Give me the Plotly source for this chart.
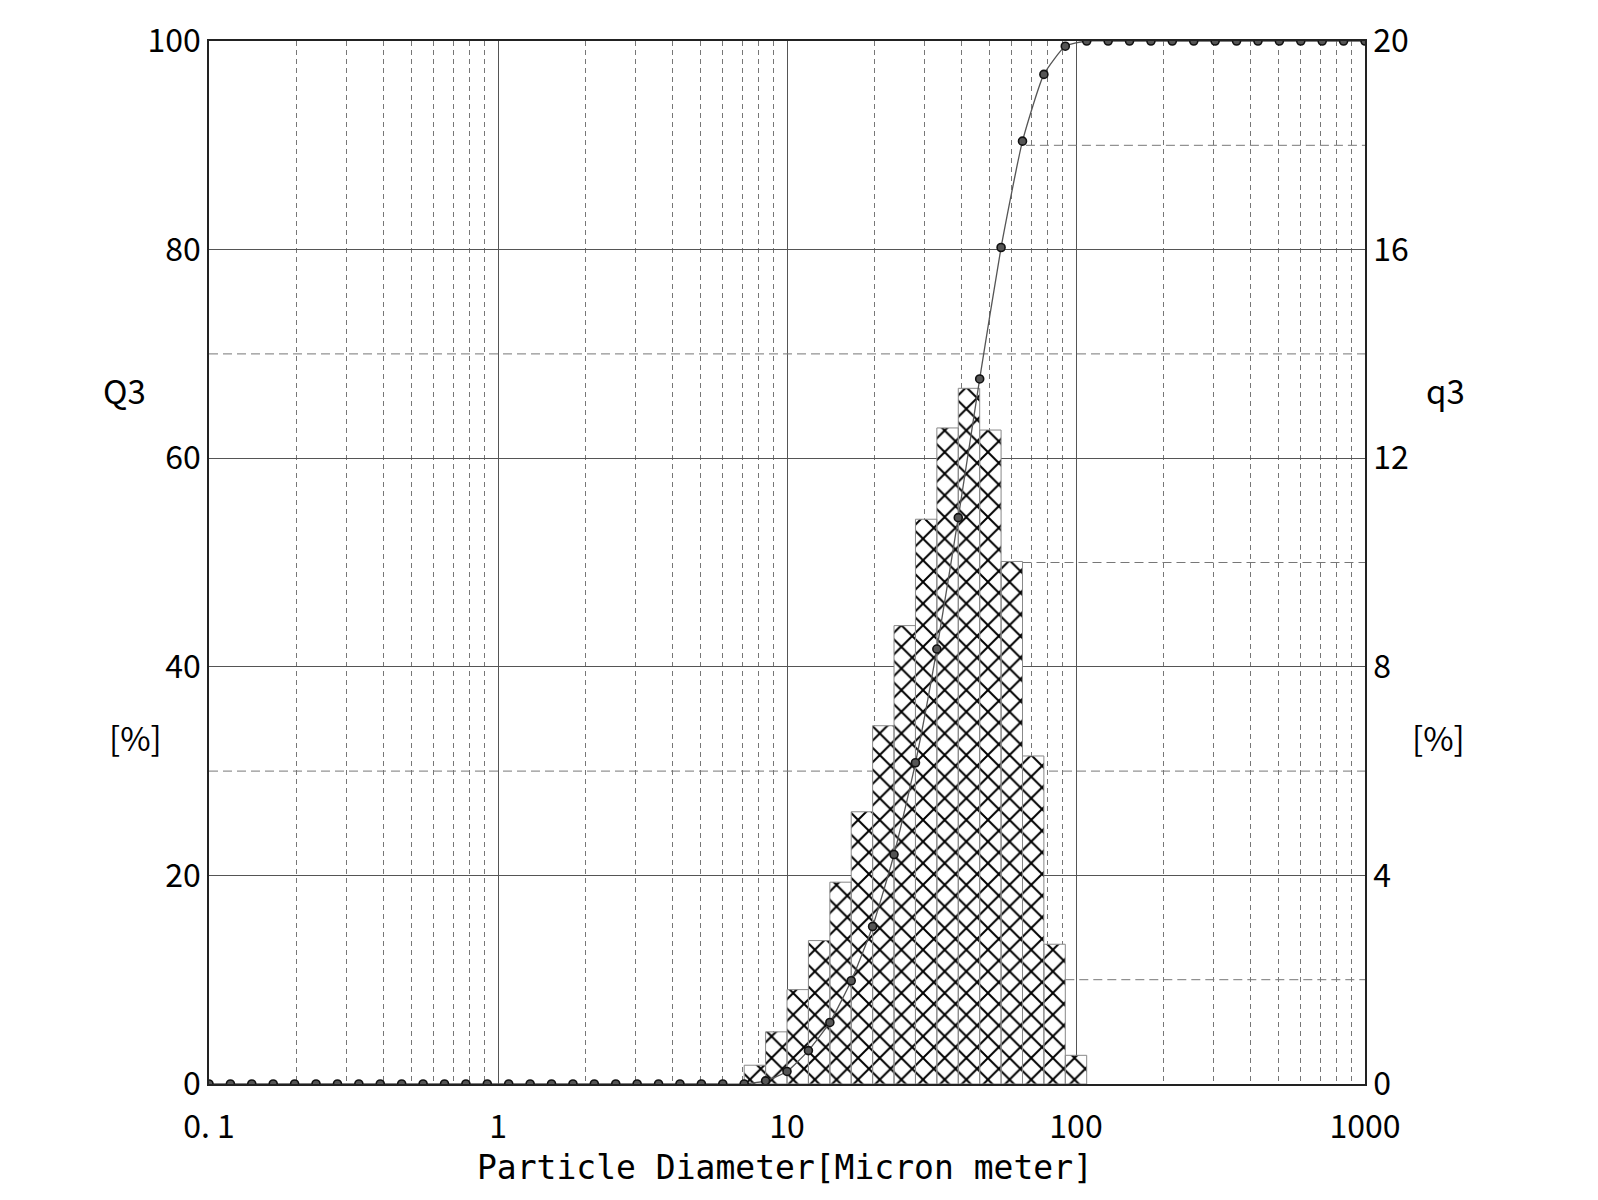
import plotly.graph_objects as go

# Channel boundaries (particle diameter, micron)
edges = [0.1, 0.1186, 0.1406, 0.1668, 0.1978, 0.2346, 0.2783, 0.3300, 0.3914, 0.4642,
         0.5506, 0.6530, 0.7743, 0.9183, 1.089, 1.292, 1.532, 1.817, 2.154, 2.555,
         3.030, 3.594, 4.262, 5.055, 5.995, 7.110, 8.432, 10.00, 11.86, 14.07,
         16.68, 19.78, 23.46, 27.83, 33.00, 39.14, 46.42, 55.05, 65.29, 77.43,
         91.83, 108.9, 129.2, 153.2, 181.7, 215.4, 255.5, 303.0, 359.4, 426.2,
         505.5, 599.5, 711.0, 843.2, 1000.0]

# Cumulative distribution Q3 [%] at each boundary
Q3 = [0, 0, 0, 0, 0, 0, 0, 0, 0, 0,
      0, 0, 0, 0, 0, 0, 0, 0, 0, 0,
      0, 0, 0, 0, 0, 0.0, 0.3, 1.2, 3.2, 5.9,
      9.9, 15.1, 22.0, 30.8, 41.7, 54.3, 67.6, 80.2, 90.4, 96.8,
      99.5, 100, 100, 100, 100, 100, 100, 100, 100, 100,
      100, 100, 100, 100, 100]

# Frequency q3 [%] per channel (between consecutive boundaries)
q3 = [0, 0, 0, 0, 0, 0, 0, 0, 0, 0,
      0, 0, 0, 0, 0, 0, 0, 0, 0, 0,
      0, 0, 0, 0, 0, 0.36, 1.00, 1.81, 2.75, 3.87,
      5.22, 6.87, 8.79, 10.83, 12.58, 13.34, 12.54, 10.02, 6.29, 2.68,
      0.55, 0, 0, 0, 0, 0, 0, 0, 0, 0,
      0, 0, 0, 0]

x_tickvals = [0.1, 1, 10, 100, 1000]
x_ticktext = ["0. 1", "1", "10", "100", "1000"]
x_minor = [0.2, 0.3, 0.4, 0.5, 0.6, 0.7, 0.8, 0.9,
           2, 3, 4, 5, 6, 7, 8, 9,
           20, 30, 40, 50, 60, 70, 80, 90,
           200, 300, 400, 500, 600, 700, 800, 900]
Q3_ticks = [0, 20, 40, 60, 80, 100]
q3_ticks = [0, 4, 8, 12, 16, 20]
# dashed right-axis grid levels (q3 units) and where each one is visible from
dash_levels = [2, 6, 10, 14, 18]
dash_start = [91.83, 0.1, 65.29, 0.1, 67.1]

TICKFONT = dict(family="Noto Sans CJK JP", size=32, color="black")
LABELFONT = dict(family="Noto Sans CJK JP", size=33, color="black")

fig = go.Figure()

# dashed horizontal grid lines (under bars)
for lvl, xs in zip(dash_levels, dash_start):
    fig.add_trace(go.Scatter(x=[xs, 1000], y=[lvl, lvl], mode="lines", yaxis="y",
                             line=dict(color="#777", width=1, dash="9px,5px"),
                             hoverinfo="skip", showlegend=False))

# histogram bars as polygons
bx, by = [], []
for i, h in enumerate(q3):
    if h > 0:
        x0, x1 = edges[i], edges[i + 1]
        bx += [x0, x0, x1, x1, x0, None]
        by += [0, h, h, 0, 0, None]

fig.add_trace(go.Scatter(
    x=bx, y=by, mode="lines", fill="toself", yaxis="y",
    fillcolor="white",
    fillpattern=dict(shape="x", size=15.3, solidity=0.24, fgcolor="black",
                     bgcolor="white", fillmode="replace"),
    line=dict(color="#888", width=1),
    hoverinfo="skip", showlegend=False))

# cumulative curve
fig.add_trace(go.Scatter(
    x=edges, y=Q3, mode="lines+markers", yaxis="y2",
    line=dict(color="#555", width=1.3, shape="spline", smoothing=0.5),
    marker=dict(size=8, color="#555", line=dict(color="#111", width=1.6)),
    hoverinfo="skip", showlegend=False))

fig.update_layout(
    width=1582, height=1184,
    margin=dict(l=201, r=225, t=33, b=108, autoexpand=False),
    plot_bgcolor="white", paper_bgcolor="white",
    showlegend=False,
    xaxis=dict(
        type="log", range=[-1, 3], automargin=False,
        tickmode="array", tickvals=x_tickvals, ticktext=x_ticktext,
        tickfont=TICKFONT, ticks="", ticklabelstandoff=14,
        showgrid=True, gridcolor="#555", gridwidth=1,
        showline=True, linecolor="#222", linewidth=1.5, mirror=True,
        zeroline=False,
        minor=dict(tickmode="array", tickvals=x_minor, showgrid=True,
                   gridcolor="#777", gridwidth=1, griddash="5px,4px", ticks=""),
    ),
    yaxis=dict(
        range=[0, 20], side="right", automargin=False,
        tickmode="array", tickvals=q3_ticks,
        tickfont=TICKFONT, ticks="",
        showgrid=True, gridcolor="#555", gridwidth=1,
        showline=True, linecolor="#222", linewidth=1.5, mirror=True,
        zeroline=False,
    ),
    yaxis2=dict(
        range=[0, 100], side="left", overlaying="y", automargin=False,
        tickmode="array", tickvals=Q3_ticks,
        tickfont=TICKFONT, ticks="",
        showgrid=False, zeroline=False,
        showline=True, linecolor="#222", linewidth=1.5,
    ),
    annotations=[
        dict(text="Particle Diameter[Micron meter]", xref="paper", yref="paper",
             x=0.498, y=-0.0805, xanchor="center", yanchor="middle", showarrow=False,
             font=dict(family="DejaVu Sans Mono", size=33, color="black")),
        dict(text="Q3", xref="paper", yref="paper", x=-0.0733, y=0.665,
             xanchor="center", yanchor="middle", showarrow=False, font=LABELFONT),
        dict(text="[%]", xref="paper", yref="paper", x=-0.0636, y=0.333,
             xanchor="center", yanchor="middle", showarrow=False, font=LABELFONT),
        dict(text="q3", xref="paper", yref="paper", x=1.0694, y=0.665,
             xanchor="center", yanchor="middle", showarrow=False, font=LABELFONT),
        dict(text="[%]", xref="paper", yref="paper", x=1.0633, y=0.333,
             xanchor="center", yanchor="middle", showarrow=False, font=LABELFONT),
    ],
)

fig.write_html("out.html")
